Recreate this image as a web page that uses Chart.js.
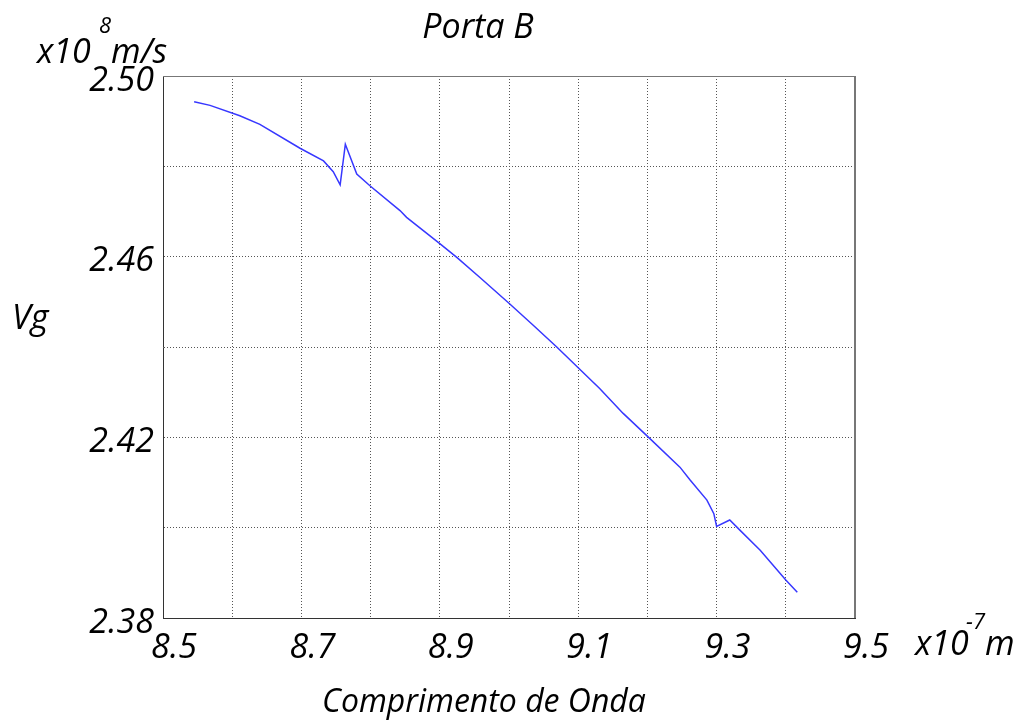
<!DOCTYPE html>
<html>
<head>
<meta charset="utf-8">
<title>Porta B</title>
<script src="https://cdn.jsdelivr.net/npm/chart.js@4/dist/chart.umd.min.js"></script>
<style>
  html, body { margin: 0; padding: 0; background: #fff; }
  canvas { display: block; }
</style>
</head>
<body>
<canvas id="vg" width="1024" height="724"></canvas>
<script>
// wavelength in units of 1e-7 m, group velocity in units of 1e8 m/s
const wavelength = [
    8.545, 8.568, 8.611, 8.640, 8.698, 8.732, 8.746, 8.756, 8.7635, 8.780,
    8.799, 8.8425, 8.852, 8.900, 8.925, 8.958, 9.000, 9.035, 9.069, 9.100,
    9.131, 9.165, 9.201, 9.247, 9.262, 9.286, 9.296, 9.300, 9.319, 9.334,
    9.363, 9.400, 9.4166
];
const vg = [
    2.4943, 2.4935, 2.4912, 2.4893, 2.4840, 2.4812, 2.4788, 2.4759, 2.4849, 2.4783,
    2.4757, 2.4702, 2.4687, 2.4629, 2.4598, 2.4554, 2.4497, 2.4448, 2.4400, 2.4354,
    2.4308, 2.4253, 2.4201, 2.4134, 2.4105, 2.4061, 2.4031, 2.4003, 2.4017, 2.3994,
    2.3950, 2.3884, 2.3857
];

const xRange = [8.5, 9.5];
const yRange = [2.38, 2.50];

const FONT = '"Open Sans", "DejaVu Sans", sans-serif';

// titles, axis names and the x10^n unit labels
const labelsPlugin = {
    id: "labels",
    afterDraw(chart) {
        const ctx = chart.ctx;
        const area = chart.chartArea;
        ctx.save();

        // solid frame on top and right
        ctx.strokeStyle = "#777";
        ctx.lineWidth = 1;
        ctx.beginPath();
        ctx.moveTo(area.left, area.top + 0.5);
        ctx.lineTo(area.right, area.top + 0.5);
        ctx.stroke();
        ctx.lineWidth = 2;
        ctx.beginPath();
        ctx.moveTo(area.right, area.top);
        ctx.lineTo(area.right, area.bottom);
        ctx.stroke();

        ctx.fillStyle = "#000";
        ctx.textBaseline = "alphabetic";

        ctx.font = "italic 34px " + FONT;
        ctx.textAlign = "center";
        ctx.fillText("Porta B", 478, 38);

        ctx.textAlign = "left";
        ctx.fillText("Vg", 12, 329);

        ctx.fillText("x10", 37, 63);
        ctx.fillText("m/s", 111, 63);
        ctx.fillText("x10", 915, 655);
        ctx.fillText("m", 985, 655);

        ctx.font = "italic 22px " + FONT;
        ctx.fillText("8", 99, 33);
        ctx.fillText("-7", 966, 629);

        ctx.font = "italic 32px " + FONT;
        ctx.textAlign = "center";
        ctx.fillText("Comprimento de Onda", 484, 712);

        ctx.restore();
    }
};

const ctx = document.getElementById("vg").getContext("2d");
new Chart(ctx, {
    type: "line",
    data: {
        datasets: [
            {
                label: "Vg",
                data: wavelength.map((w, i) => ({ x: w, y: vg[i] })),
                borderColor: "rgb(55, 55, 255)",
                borderWidth: 1.5,
                pointRadius: 0,
                tension: 0,
                fill: false,
            },
        ],
    },
    options: {
        responsive: false,
        animation: false,
        layout: {
            padding: { left: 0, right: 169, top: 76, bottom: 66 },
        },
        plugins: {
            legend: { display: false },
            tooltip: { enabled: false },
        },
        scales: {
            x: {
                type: "linear",
                position: "bottom",
                min: xRange[0],
                max: xRange[1],
                afterFit(scale) {
                    scale.height = 40;
                },
                ticks: {
                    stepSize: 0.1,
                    autoSkip: false,
                    maxRotation: 0,
                    padding: 10,
                    labelOffset: 11,
                    color: "#000",
                    font: { family: FONT, size: 34, style: "italic" },
                    callback: (v) => (Math.round(v * 10) % 2 === 1 ? v.toFixed(1) : ""),
                },
                grid: {
                    color: "#555",
                    lineWidth: 1,
                    drawTicks: false,
                },
                border: { color: "#333", width: 1, dash: [1, 2] },
            },
            y: {
                type: "linear",
                position: "left",
                min: yRange[0],
                max: yRange[1],
                afterFit(scale) {
                    scale.width = 163;
                },
                ticks: {
                    stepSize: 0.02,
                    autoSkip: false,
                    padding: 9,
                    labelOffset: 5,
                    color: "#000",
                    font: { family: FONT, size: 34, style: "italic" },
                    callback: (v) => (Math.round(v * 100) % 4 === 2 ? v.toFixed(2) : ""),
                },
                grid: {
                    color: "#555",
                    lineWidth: 1,
                    drawTicks: false,
                },
                border: { color: "#333", width: 1, dash: [1, 2] },
            },
        },
    },
    plugins: [labelsPlugin],
});
</script>
</body>
</html>
